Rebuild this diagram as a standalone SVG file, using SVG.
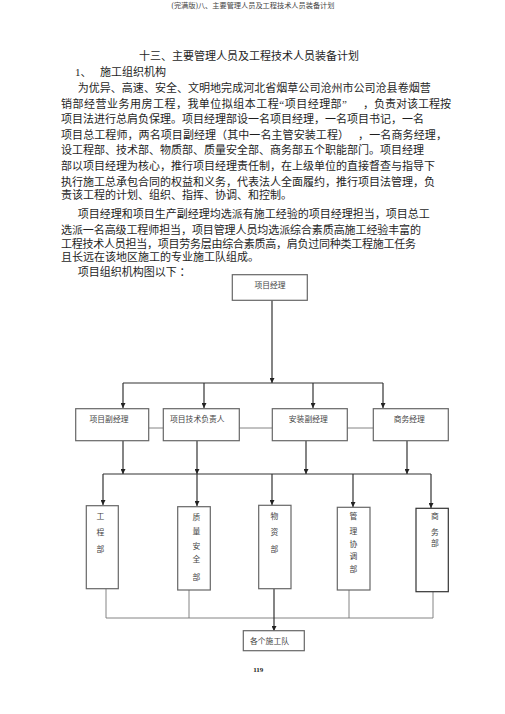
<svg xmlns="http://www.w3.org/2000/svg" width="505" height="714" viewBox="0 0 505 714">
<style>
.t{font-family:"Liberation Serif","Noto Sans CJK SC",serif;font-size:11px;fill:#1e1e1e}
.h{font-family:"Liberation Serif","Noto Sans CJK SC",serif;font-size:7.2px;fill:#444}
.n{font-family:"Liberation Serif","Noto Sans CJK SC",serif;font-size:7.8px;fill:#444}
.bx{fill:#fff;stroke:#666;stroke-width:1.2}
.c{stroke:#333;stroke-width:1.2;fill:none}
.cl{stroke:#777;stroke-width:0.9;fill:none}
</style>
<defs>
<marker id="arr" viewBox="0 0 10 10" refX="10" refY="5" markerWidth="5" markerHeight="5" orient="auto" markerUnits="userSpaceOnUse">
<path d="M0,0 L10,5 L0,10 z" fill="#222"/>
</marker>
</defs>
<rect width="505" height="714" fill="#fff"/>
<text class="h" x="253" y="7.5" text-anchor="middle">(完满版)八、主要管理人员及工程技术人员装备计划</text>
<g id="body-text">
<text class="t" x="139" y="59.5" textLength="220" lengthAdjust="spacing">十三、主要管理人员及工程技术人员装备计划</text>
<text class="t" x="75" y="75.5">1、</text>
<text class="t" x="100" y="75.5" textLength="66" lengthAdjust="spacing">施工组织机构</text>
<text class="t" x="77.7" y="92" textLength="353" lengthAdjust="spacing">为优异、高速、安全、文明地完成河北省烟草公司沧州市公司沧县卷烟营</text>
<text class="t" x="61" y="107.5" textLength="286" lengthAdjust="spacing">销部经营业务用房工程，我单位拟组本工程“项目经理部”</text>
<text class="t" x="363" y="107.5" textLength="88" lengthAdjust="spacing">，负责对该工程按</text>
<text class="t" x="61" y="122.5" textLength="363" lengthAdjust="spacing">项目法进行总肩负保理。项目经理部设一名项目经理，一名项目书记，一名</text>
<text class="t" x="61" y="138.5" textLength="288" lengthAdjust="spacing">项目总工程师，两名项目副经理（其中一名主管安装工程）</text>
<text class="t" x="358" y="138.5" textLength="89" lengthAdjust="spacing">，一名商务经理，</text>
<text class="t" x="61" y="154" textLength="363" lengthAdjust="spacing">设工程部、技术部、物质部、质量安全部、商务部五个职能部门。项目经理</text>
<text class="t" x="61" y="170" textLength="374" lengthAdjust="spacing">部以项目经理为核心，推行项目经理责任制，在上级单位的直接督查与指导下</text>
<text class="t" x="61" y="185.5" textLength="374" lengthAdjust="spacing">执行施工总承包合同的权益和义务，代表法人全面履约，推行项目法管理，负</text>
<text class="t" x="61" y="199" textLength="231" lengthAdjust="spacing">责该工程的计划、组织、指挥、协调、和控制。</text>
<text class="t" x="77.7" y="217.5" textLength="352" lengthAdjust="spacing">项目经理和项目生产副经理均选派有施工经验的项目经理担当，项目总工</text>
<text class="t" x="61" y="233.5" textLength="360" lengthAdjust="spacing">选派一名高级工程师担当，项目管理人员均选派综合素质高施工经验丰富的</text>
<text class="t" x="61" y="247.5" textLength="355" lengthAdjust="spacing">工程技术人员担当，项目劳务层由综合素质高，肩负过同种类工程施工任务</text>
<text class="t" x="61" y="261" textLength="198" lengthAdjust="spacing">且长远在该地区施工的专业施工队组成。</text>
<text class="t" x="77.7" y="276">项目组织机构图以下 ：</text>
</g>
<g id="connectors">
<line class="c" x1="272" y1="300" x2="272" y2="383" marker-end="url(#arr)"/>
<line class="c" x1="123" y1="383" x2="383" y2="383"/>
<line class="c" x1="123" y1="383" x2="123" y2="408" marker-end="url(#arr)"/>
<line class="c" x1="204" y1="383" x2="204" y2="408" marker-end="url(#arr)"/>
<line class="c" x1="313" y1="383" x2="313" y2="408" marker-end="url(#arr)"/>
<line class="c" x1="383" y1="383" x2="383" y2="408" marker-end="url(#arr)"/>
<line class="cl" x1="149" y1="428" x2="163" y2="428"/>
<line class="cl" x1="239" y1="428" x2="272" y2="428"/>
<line class="cl" x1="347" y1="428" x2="373" y2="428"/>
<line class="c" x1="123" y1="441" x2="123" y2="474" marker-end="url(#arr)"/>
<line class="c" x1="197" y1="441" x2="197" y2="474" marker-end="url(#arr)"/>
<line class="c" x1="306" y1="441" x2="306" y2="474" marker-end="url(#arr)"/>
<line class="c" x1="407" y1="441" x2="407" y2="474" marker-end="url(#arr)"/>
<line class="c" x1="103" y1="474" x2="431" y2="474"/>
<line class="c" x1="103" y1="474" x2="103" y2="505" marker-end="url(#arr)"/>
<line class="c" x1="197" y1="474" x2="197" y2="506" marker-end="url(#arr)"/>
<line class="c" x1="272" y1="474" x2="272" y2="505" marker-end="url(#arr)"/>
<line class="c" x1="353" y1="474" x2="353" y2="507" marker-end="url(#arr)"/>
<line class="c" x1="431" y1="474" x2="431" y2="508" marker-end="url(#arr)"/>
<line class="cl" x1="106" y1="589" x2="106" y2="618"/>
<line class="cl" x1="189" y1="590" x2="189" y2="618"/>
<line class="cl" x1="349" y1="590" x2="349" y2="618"/>
<line class="cl" x1="433" y1="592" x2="433" y2="618"/>
<line class="cl" x1="106" y1="618" x2="433" y2="618"/>
<line class="c" x1="274" y1="589" x2="274" y2="631" marker-end="url(#arr)"/>
</g>
<g id="pm">
<rect class="bx" x="232.3" y="274.7" width="75" height="25.6"/>
<text class="n" x="270" y="288" text-anchor="middle">项目经理</text>
</g>
<g id="deputy">
<rect class="bx" x="75.7" y="408.7" width="73" height="32"/>
<text class="n" x="109" y="422" text-anchor="middle">项目副经理</text>
</g>
<g id="tech">
<rect class="bx" x="163.3" y="408.7" width="76" height="32"/>
<text class="n" x="170" y="422">项目技术负责人</text>
</g>
<g id="install">
<rect class="bx" x="272.3" y="408.7" width="75" height="32"/>
<text class="n" x="308.3" y="422" text-anchor="middle">安装副经理</text>
</g>
<g id="business">
<rect class="bx" x="373.3" y="408.7" width="75" height="32"/>
<text class="n" x="409.3" y="422" text-anchor="middle">商务经理</text>
</g>
<g id="eng">
<rect class="bx" x="86.3" y="505.7" width="32" height="83"/>
<text class="n" text-anchor="middle"><tspan x="100.3" y="519">工</tspan><tspan x="100.3" y="535">程</tspan><tspan x="100.3" y="552.3">部</tspan></text>
</g>
<g id="quality">
<rect class="bx" x="177.7" y="506.7" width="32.6" height="83.3"/>
<text class="n" text-anchor="middle"><tspan x="196.3" y="519.7">质</tspan><tspan x="196.3" y="534.3">量</tspan><tspan x="196.3" y="549">安</tspan><tspan x="196.3" y="562.3">全</tspan><tspan x="196.3" y="579.7">部</tspan></text>
</g>
<g id="material">
<rect class="bx" x="258.7" y="505.3" width="32.3" height="83.4"/>
<text class="n" text-anchor="middle"><tspan x="274.3" y="519">物</tspan><tspan x="274.3" y="534.7">资</tspan><tspan x="274.3" y="552.3">部</tspan></text>
</g>
<g id="coord">
<rect class="bx" x="337.3" y="507.3" width="32.7" height="82.7"/>
<text class="n" text-anchor="middle"><tspan x="353.3" y="519">管</tspan><tspan x="353.3" y="534">理</tspan><tspan x="353.3" y="546.7">协</tspan><tspan x="353.3" y="559">调</tspan><tspan x="353.3" y="572">部</tspan></text>
</g>
<g id="commerce">
<rect class="bx" x="416" y="508.3" width="32.3" height="83.4" style="stroke:#333"/>
<text class="n" text-anchor="middle"><tspan x="435" y="519">商</tspan><tspan x="435" y="535">务</tspan><tspan x="435" y="546.3">部</tspan></text>
</g>
<g id="teams">
<rect class="bx" x="243.3" y="630.7" width="61" height="20"/>
<text class="n" x="250" y="644.3">各个施工队</text>
</g>
<text x="258.3" y="672" text-anchor="middle" style="font-family:'Liberation Serif',serif;font-size:7px;font-weight:bold;fill:#222">119</text>
</svg>
